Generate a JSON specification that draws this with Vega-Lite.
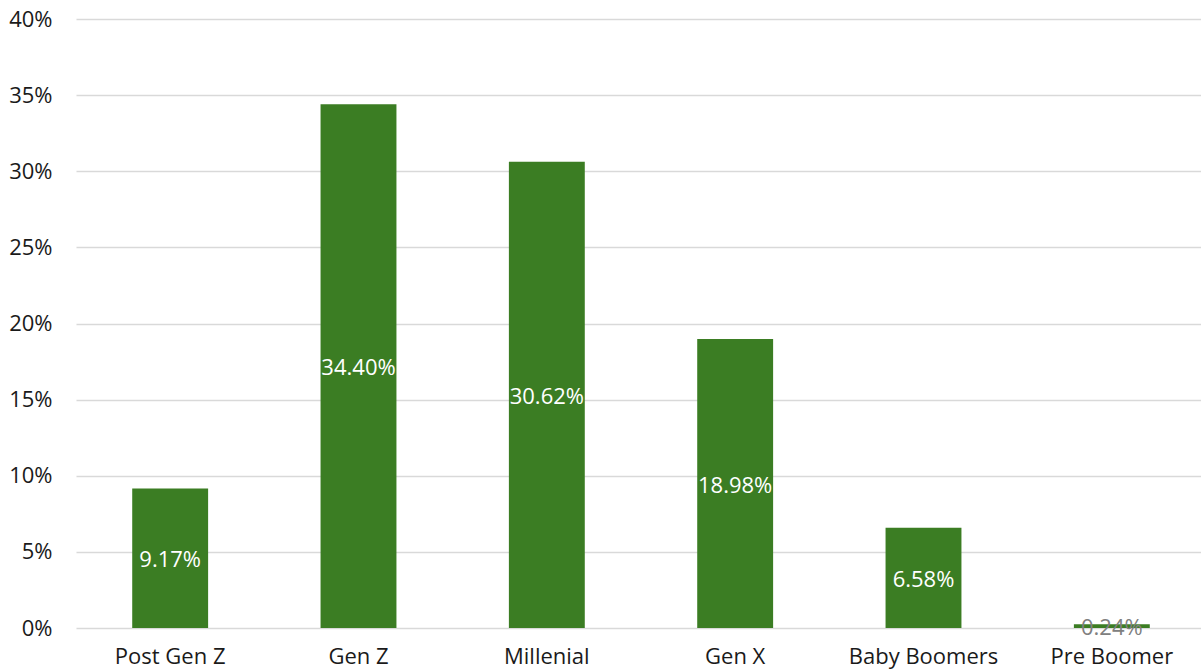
{
  "$schema": "https://vega.github.io/schema/vega-lite/v6.json",
  "width": 1130,
  "height": 609,
  "autosize": {"type": "none"},
  "padding": {"left": 76, "top": 19, "right": 0, "bottom": 43},
  "background": "white",
  "config": {"view": {"stroke": null}, "font": "Open Sans"},
  "data": {"values": [
    {"gen": "Post Gen Z", "share": 0.0917},
    {"gen": "Gen Z", "share": 0.3440},
    {"gen": "Millenial", "share": 0.3062},
    {"gen": "Gen X", "share": 0.1898},
    {"gen": "Baby Boomers", "share": 0.0658},
    {"gen": "Pre Boomer", "share": 0.0024}
  ]},
  "encoding": {
    "x": {"field": "gen", "type": "nominal", "sort": null,
      "scale": {"paddingInner": 0.597, "paddingOuter": 0.2985},
      "axis": {"title": null, "labelAngle": 0, "domain": false, "ticks": false, "labelPadding": 18, "labelFontSize": 22, "labelColor": "#1a1a1a", "labelFont": "Open Sans"}}
  },
  "layer": [
    {
      "mark": {"type": "bar", "color": "#3B7D23"},
      "encoding": {
        "y": {"field": "share", "type": "quantitative",
          "scale": {"domain": [0, 0.4], "nice": false},
          "axis": {"title": null, "format": "%", "values": [0, 0.05, 0.1, 0.15, 0.2, 0.25, 0.3, 0.35, 0.4], "domain": false, "ticks": false, "labelPadding": 24, "labelFontSize": 22, "labelColor": "#1a1a1a", "gridColor": "#d9d9d9", "gridWidth": 1.5, "labelFont": "Open Sans"}}
      }
    },
    {
      "mark": {"type": "text", "fontSize": 22, "baseline": "middle", "align": "center", "font": "Open Sans", "dy": 2},
      "encoding": {
        "y": {"field": "share", "type": "quantitative", "scale": {"domain": [0, 0.8], "nice": false}, "axis": null},
        "text": {"field": "share", "type": "quantitative", "format": ".2%"},
        "color": {"condition": {"test": "datum.share < 0.01", "value": "#808080"}, "value": "white"}
      }
    }
  ],
  "resolve": {"scale": {"y": "independent"}}
}
